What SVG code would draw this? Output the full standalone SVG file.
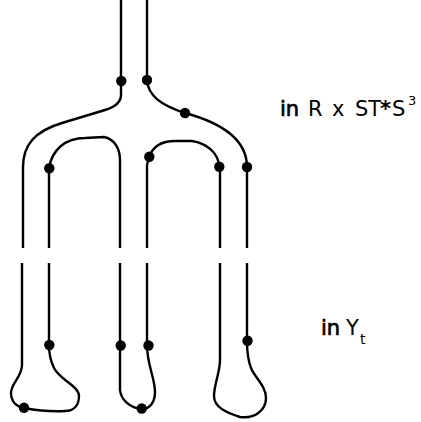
<svg xmlns="http://www.w3.org/2000/svg" width="421" height="422" viewBox="0 0 421 422">
  <style>
    .strand { fill: none; stroke: #000; stroke-width: 2.4; stroke-linecap: butt; stroke-linejoin: round; }
    .dot { fill: #000; }
    .lbl { font-family: "DejaVu Sans", "Liberation Sans", sans-serif; font-size: 21px; fill: #000; }
    .b { stroke: #000; stroke-width: 0.7; }
    .star { font-weight: bold; }
  </style>
  <rect width="421" height="422" fill="#fff"/>

  <!-- strands -->
  <g id="connectors">
    <!-- upper half: two incoming strands splitting into arches -->
    <path class="strand" d="M121,0 V95 C121,103 115,107 105,110 L62,123 C35,131 23,145 23,167 V248"/>
    <path class="strand" d="M147,0 V80 C148,95 160,105 185,113 C222,123 247,140 247,167 V248"/>
    <path class="strand" d="M49,248 V168 C52,150 65,138 85,138 L104,137 C114,139 120,148 120,160 V248"/>
    <path class="strand" d="M147,248 V165 L149,157 C153,146 163,141 175,141 L192,141 C205,143 219,152 219,167 L220,172 V248"/>
    <!-- lower half: three closed caps -->
    <path class="strand" d="M22,263 V365 C22,377 11,383 11,393 C11,402 17,407 24,408 C35,410 50,412 65,411 C75,411 79,404 79,396 C79,386 60,380 54,368 C50,360 49,352 49,345 V263"/>
    <path class="strand" d="M120,263 V390 C121,400 130,408 142,409 C150,409 155,402 155,392 C155,378 147,365 147,345 V263"/>
    <path class="strand" d="M220,263 V360 C220,372 214,385 214,396 C214,408 228,413 240,417 C255,419 266,410 266,398 C266,386 255,378 251,368 C248,360 247,350 247,341 V263"/>
  </g>

  <!-- marked points -->
  <g id="p1"><circle class="dot" cx="121.3" cy="81" r="5.2"/></g>
  <g id="p2"><circle class="dot" cx="147" cy="80" r="5.2"/></g>
  <g id="p3"><circle class="dot" cx="185" cy="113" r="5.2"/></g>
  <g id="p4"><circle class="dot" cx="49.3" cy="168.3" r="5.2"/></g>
  <g id="p5"><circle class="dot" cx="149.3" cy="156.7" r="5.2"/></g>
  <g id="p6"><circle class="dot" cx="219.3" cy="166.7" r="5.2"/></g>
  <g id="p7"><circle class="dot" cx="247" cy="167" r="5.2"/></g>
  <g id="p8"><circle class="dot" cx="49.3" cy="345" r="5.2"/></g>
  <g id="p9"><circle class="dot" cx="24" cy="407.7" r="5.2"/></g>
  <g id="p10"><circle class="dot" cx="120.7" cy="345.5" r="5.2"/></g>
  <g id="p11"><circle class="dot" cx="148.5" cy="345.5" r="5.2"/></g>
  <g id="p12"><circle class="dot" cx="141.7" cy="408.5" r="5.2"/></g>
  <g id="p13"><circle class="dot" cx="247.5" cy="340.7" r="5.2"/></g>

  <!-- region labels -->
  <g id="label-top">
    <text class="lbl" y="116"><tspan class="b" x="280">in</tspan><tspan x="308">R</tspan><tspan x="332">x</tspan><tspan x="355">ST</tspan><tspan class="star" x="380">*</tspan><tspan x="392">S</tspan><tspan x="408" y="105" font-size="13">3</tspan></text>
  </g>
  <g id="label-bottom">
    <text class="lbl" y="335"><tspan class="b" x="321">in</tspan><tspan x="346">Y</tspan><tspan x="360" y="344" font-size="14">t</tspan></text>
  </g>
</svg>
